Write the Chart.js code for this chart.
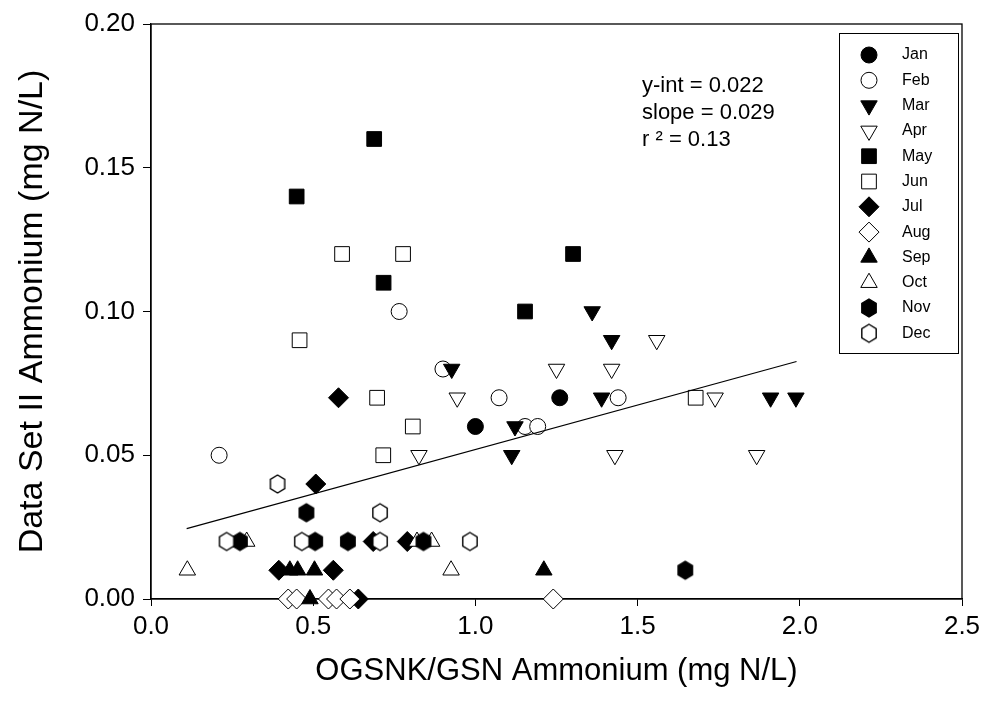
<!DOCTYPE html>
<html>
<head>
<meta charset="utf-8">
<script src="https://cdn.jsdelivr.net/npm/chart.js@4.4.1/dist/chart.umd.min.js"></script>
<style>
  body { margin: 0; background: #fff; }
  #wrap { width: 981px; height: 702px; }
</style>
</head>
<body>
<div id="wrap"><canvas id="ammoniumChart" width="981" height="702"></canvas></div>
<script>
// monthly points [OGSNK/GSN, Data Set II], mg N/L
const months = ['Jan', 'Feb', 'Mar', 'Apr', 'May', 'Jun', 'Jul', 'Aug', 'Sep', 'Oct', 'Nov', 'Dec'];
const janPts = [[1.00, 0.06], [1.26, 0.07]];
const febPts = [[0.21, 0.05], [0.765, 0.10], [0.90, 0.08], [1.073, 0.07], [1.153, 0.06], [1.192, 0.06], [1.44, 0.07]];
const marPts = [[0.927, 0.08], [1.122, 0.06], [1.112, 0.05], [1.36, 0.10], [1.42, 0.09], [1.389, 0.07], [1.91, 0.07], [1.988, 0.07]];
const aprPts = [[0.826, 0.05], [0.944, 0.07], [1.25, 0.08], [1.42, 0.08], [1.559, 0.09], [1.43, 0.05], [1.739, 0.07], [1.867, 0.05]];
const mayPts = [[0.449, 0.14], [0.688, 0.16], [0.717, 0.11], [1.153, 0.10], [1.301, 0.12]];
const junPts = [[0.458, 0.09], [0.589, 0.12], [0.777, 0.12], [0.697, 0.07], [0.716, 0.05], [0.807, 0.06], [1.679, 0.07]];
const julPts = [[0.578, 0.07], [0.508, 0.04], [0.685, 0.02], [0.79, 0.02], [0.394, 0.01], [0.562, 0.01], [0.639, 0.0]];
const augPts = [[0.423, 0.0], [0.449, 0.0], [0.547, 0.0], [0.572, 0.0], [0.613, 0.0], [1.24, 0.0]];
const sepPts = [[0.428, 0.01], [0.452, 0.01], [0.504, 0.01], [0.49, 0.0], [1.211, 0.01]];
const octPts = [[0.112, 0.01], [0.295, 0.02], [0.82, 0.02], [0.865, 0.02], [0.925, 0.01]];
const novPts = [[0.274, 0.02], [0.479, 0.03], [0.506, 0.02], [0.607, 0.02], [0.84, 0.02], [1.647, 0.01]];
const decPts = [[0.39, 0.04], [0.233, 0.02], [0.465, 0.02], [0.706, 0.03], [0.706, 0.02], [0.983, 0.02]];
const monthPts = [janPts, febPts, marPts, aprPts, mayPts, junPts, julPts, augPts, sepPts, octPts, novPts, decPts];

// regression line ends
const fitX = [0.11, 1.99];
const fitY = [0.0245, 0.0826];
const fitText = ['y-int = 0.022', 'slope = 0.029', 'r \u00b2 = 0.13'];

const xTicks = [0, 0.5, 1.0, 1.5, 2.0, 2.5];
const yTicks = [0, 0.05, 0.10, 0.15, 0.20];

const FONT = "'Liberation Sans', Arial, sans-serif";

// hexagon markers (not built into Chart.js)
function makeHex(filled) {
    const c = document.createElement('canvas');
    c.width = 20; c.height = 22;
    const g = c.getContext('2d');
    g.beginPath();
    for (let i = 0; i < 6; i++) {
        const a = Math.PI / 3 * i - Math.PI / 2;
        const px = 10 + 8.3 * Math.cos(a), py = 11 + 9 * Math.sin(a);
        if (i === 0) g.moveTo(px, py); else g.lineTo(px, py);
    }
    g.closePath();
    g.fillStyle = filled ? '#000' : '#fff';
    g.fill();
    g.lineWidth = 1.4;
    g.strokeStyle = '#000';
    g.stroke();
    return c;
}

const markerStyles = [
    { style: 'circle', fill: true, r: 8, rot: 0 },
    { style: 'circle', fill: false, r: 8, rot: 0 },
    { style: 'triangle', fill: true, r: 9.5, rot: 180 },
    { style: 'triangle', fill: false, r: 9.5, rot: 180 },
    { style: 'rect', fill: true, r: 10.4, rot: 0 },
    { style: 'rect', fill: false, r: 10.4, rot: 0 },
    { style: 'rectRot', fill: true, r: 10, rot: 0 },
    { style: 'rectRot', fill: false, r: 10, rot: 0 },
    { style: 'triangle', fill: true, r: 9.5, rot: 0 },
    { style: 'triangle', fill: false, r: 9.5, rot: 0 },
    { style: makeHex(true), fill: true, r: 9, rot: 0 },
    { style: makeHex(false), fill: false, r: 9, rot: 0 }
];

const datasets = months.map((m, i) => {
    const mk = markerStyles[i];
    return {
        label: m,
        data: monthPts[i].map(p => ({ x: p[0], y: p[1] })),
        showLine: false,
        clip: false,
        pointStyle: mk.style,
        pointRadius: mk.r,
        pointHoverRadius: mk.r,
        pointRotation: mk.rot,
        pointBackgroundColor: mk.fill ? '#000' : '#fff',
        pointBorderColor: '#000',
        pointBorderWidth: 1,
        order: 12 - i
    };
});
datasets.push({
    label: 'fit',
    data: fitX.map((x, i) => ({ x: x, y: fitY[i] })),
    showLine: true,
    borderColor: '#000',
    borderWidth: 1.2,
    pointRadius: 0,
    order: 0
});

// frame, legend box and regression text
const extras = {
    id: 'extras',
    beforeDatasetsDraw(chart) {
        const ctx = chart.ctx;
        const a = chart.chartArea;
        ctx.save();
        ctx.strokeStyle = '#000';
        ctx.lineWidth = 1.3;
        ctx.strokeRect(a.left, a.top, a.right - a.left, a.bottom - a.top);
        ctx.restore();
    },
    afterDraw(chart) {
        const ctx = chart.ctx;
        const a = chart.chartArea;
        ctx.save();
        // legend
        const lx = a.right - 123, ly = a.top + 9, lw = 119, lh = 320;
        ctx.strokeStyle = '#000';
        ctx.lineWidth = 1;
        ctx.strokeRect(lx + 0.5, ly + 0.5, lw, lh);
        ctx.font = '16px ' + FONT;
        ctx.textBaseline = 'middle';
        ctx.textAlign = 'left';
        months.forEach((m, i) => {
            const mk = markerStyles[i];
            const cy = ly + 22 + i * 25.3;
            ctx.fillStyle = mk.fill ? '#000' : '#fff';
            ctx.strokeStyle = '#000';
            ctx.lineWidth = 1;
            Chart.helpers.drawPoint(ctx, { pointStyle: mk.style, radius: mk.r, rotation: mk.rot, borderWidth: 1 }, lx + 30, cy);
            ctx.fillStyle = '#000';
            ctx.fillText(m, lx + 63, cy);
        });

        // fit statistics
        ctx.font = '22px ' + FONT;
        ctx.fillStyle = '#000';
        fitText.forEach((t, i) => ctx.fillText(t, a.left + 491, a.top + 62 + i * 27));
        ctx.restore();
    }
};

const ctx = document.getElementById('ammoniumChart').getContext('2d');
const ammoniumChart = new Chart(ctx, {
    type: 'scatter',
    data: { datasets: datasets },
    options: {
        responsive: false,
        animation: false,
        layout: { padding: { left: 0, top: 24, right: 0, bottom: 0 } },
        plugins: {
            legend: { display: false },
            tooltip: { enabled: false }
        },
        scales: {
            x: {
                type: 'linear',
                min: 0, max: 2.5,
                afterBuildTicks: axis => { axis.ticks = xTicks.map(v => ({ value: v })); },
                afterFit: axis => { axis.height = 103; axis.paddingRight = 19; },
                ticks: {
                    color: '#000',
                    font: { family: FONT, size: 26 },
                    padding: 5,
                    callback: v => v.toFixed(1)
                },
                grid: { drawOnChartArea: false, drawTicks: true, tickLength: 7, color: '#000' },
                border: { display: true, color: '#000', width: 1.3 },
                title: {
                    display: true,
                    text: 'OGSNK/GSN Ammonium (mg N/L)',
                    color: '#000',
                    font: { family: FONT, size: 31 },
                    padding: { top: 2, bottom: 12 }
                }
            },
            y: {
                type: 'linear',
                min: 0, max: 0.2,
                afterBuildTicks: axis => { axis.ticks = yTicks.map(v => ({ value: v })); },
                afterFit: axis => { axis.width = 151; },
                ticks: {
                    color: '#000',
                    font: { family: FONT, size: 26 },
                    padding: 8,
                    callback: v => v.toFixed(2)
                },
                grid: { drawOnChartArea: false, drawTicks: true, tickLength: 8, color: '#000' },
                border: { display: true, color: '#000', width: 1.3 },
                title: {
                    display: true,
                    text: 'Data Set II Ammonium (mg N/L)',
                    color: '#000',
                    font: { family: FONT, size: 34 },
                    padding: { top: 12, bottom: 6 }
                }
            }
        }
    },
    plugins: [extras]
});
</script>
</body>
</html>
